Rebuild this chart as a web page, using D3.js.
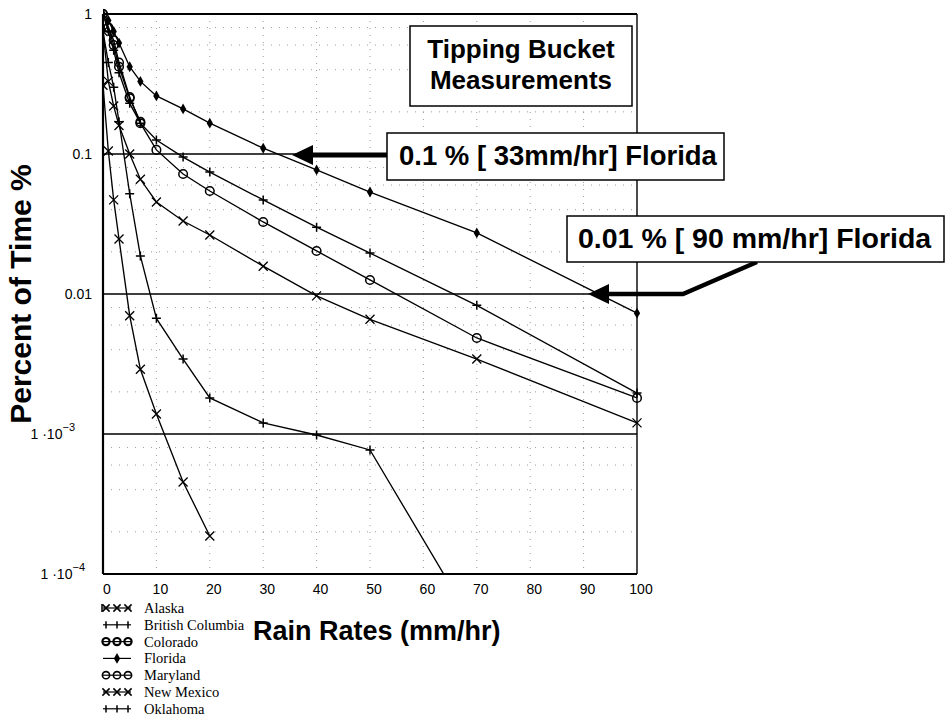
<!DOCTYPE html>
<html>
<head>
<meta charset="utf-8">
<script src="https://cdn.jsdelivr.net/npm/d3@7"></script>
<style>
  html, body { margin: 0; padding: 0; background: #fff; }
  svg { display: block; }
</style>
</head>
<body>
<svg id="chart" width="946" height="717"></svg>
<script>
// ---------- data ----------
const seriesNames = ["Alaska", "British Columbia", "Colorado", "Florida", "Maryland", "New Mexico", "Oklahoma"];

const alaska = [[0,0.31],[1,0.105],[2,0.047],[3,0.0247],[5,0.007],[7,0.0029],[10,0.00139],[15,0.000454],[20,0.000187]];
const britishColumbia = [[0,0.75],[1,0.45],[2,0.3],[3,0.17],[5,0.052],[7,0.0187],[10,0.0067],[15,0.00343],[20,0.00181],[30,0.0012],[40,0.000984],[50,0.000769],[70,0.00004]];
const colorado = [[0,1],[1,0.8],[2,0.6],[3,0.42],[5,0.25],[7,0.17]];
const florida = [[0,1],[1,0.9],[2,0.75],[3,0.62],[5,0.42],[7,0.33],[10,0.26],[15,0.21],[20,0.166],[30,0.11],[40,0.077],[50,0.0535],[70,0.0273],[100,0.0073]];
const maryland = [[0,1],[1,0.8],[2,0.65],[3,0.45],[5,0.255],[7,0.166],[10,0.107],[15,0.072],[20,0.0544],[30,0.0327],[40,0.0203],[50,0.0126],[70,0.00485],[100,0.00181]];
const newMexico = [[0,0.75],[1,0.33],[2,0.22],[3,0.16],[5,0.1],[7,0.066],[10,0.0454],[15,0.0332],[20,0.0264],[30,0.0158],[40,0.0097],[50,0.0066],[70,0.00343],[100,0.0012]];
const oklahoma = [[0,1],[1,0.75],[2,0.55],[3,0.38],[5,0.23],[7,0.166],[10,0.126],[15,0.095],[20,0.0743],[30,0.047],[40,0.030],[50,0.0196],[70,0.0083],[100,0.00196]];

const xTicks = [0,10,20,30,40,50,60,70,80,90,100];
const yMajor = [1, 0.1, 0.01, 0.001, 0.0001];
const yTickLabels = ["1", "0.1", "0.01", "1 \u00B710|\u22123", "1 \u00B710|\u22124"];
const annoTitle = ["Tipping Bucket", "Measurements"];
const anno1 = "0.1 % [ 33mm/hr] Florida";
const anno2 = "0.01 % [ 90 mm/hr] Florida";
const xTitle = "Rain Rates (mm/hr)";
const yTitle = "Percent of Time %";

// ---------- setup ----------
const svg = d3.select("#chart");
const sans = "'Liberation Sans', Arial, Helvetica, sans-serif";
const serif = "'Liberation Serif', 'Times New Roman', serif";

const x = d3.scaleLinear().domain([0, 100]).range([103, 637]);
const y = d3.scaleLog().domain([1e-4, 1]).range([574, 14]);

const markerOf = {
  "Alaska": "x", "British Columbia": "plus", "Colorado": "circle",
  "Florida": "diamond", "Maryland": "circle", "New Mexico": "x", "Oklahoma": "plus"
};
const dataOf = {
  "Alaska": alaska, "British Columbia": britishColumbia, "Colorado": colorado,
  "Florida": florida, "Maryland": maryland, "New Mexico": newMexico, "Oklahoma": oklahoma
};

svg.append("defs").append("clipPath").attr("id", "plotclip")
  .append("rect").attr("x", x(0)).attr("y", y(1) - 6)
  .attr("width", x(100) - x(0) + 6).attr("height", y(1e-4) - y(1) + 6);

// ---------- grid ----------
const grid = svg.append("g");
xTicks.slice(1, -1).forEach(t => {
  grid.append("line").attr("x1", x(t)).attr("x2", x(t)).attr("y1", y(1)).attr("y2", y(1e-4))
    .attr("stroke", "#9a9a9a").attr("stroke-width", 1).attr("stroke-dasharray", "1 6");
});
[-4, -3, -2, -1].forEach(k => {
  [2, 4, 6, 8].forEach(m => {
    const v = m * Math.pow(10, k);
    grid.append("line").attr("x1", x(0)).attr("x2", x(100)).attr("y1", y(v)).attr("y2", y(v))
      .attr("stroke", "#9a9a9a").attr("stroke-width", 1).attr("stroke-dasharray", "1 7");
  });
});

// major horizontal lines
yMajor.forEach(v => {
  svg.append("line").attr("x1", x(0)).attr("x2", x(100)).attr("y1", y(v)).attr("y2", y(v))
    .attr("stroke", "#000").attr("stroke-width", (v === 1 || v === 1e-4) ? 2 : 1.6);
});
// left and right borders
svg.append("line").attr("x1", x(0)).attr("x2", x(0)).attr("y1", y(1)).attr("y2", y(1e-4))
  .attr("stroke", "#000").attr("stroke-width", 2.2);
svg.append("line").attr("x1", x(100)).attr("x2", x(100)).attr("y1", y(1)).attr("y2", y(1e-4))
  .attr("stroke", "#000").attr("stroke-width", 1.4);

// ---------- series ----------
function drawMarker(g, type, cx, cy) {
  const s = 4.5;
  if (type === "x") {
    g.append("path").attr("d", `M${cx-s},${cy-s}L${cx+s},${cy+s}M${cx-s},${cy+s}L${cx+s},${cy-s}`)
      .attr("stroke", "#000").attr("stroke-width", 1.3).attr("fill", "none");
  } else if (type === "plus") {
    g.append("path").attr("d", `M${cx-s},${cy}L${cx+s},${cy}M${cx},${cy-s}L${cx},${cy+s}`)
      .attr("stroke", "#000").attr("stroke-width", 1.5).attr("fill", "none");
  } else if (type === "circle") {
    g.append("circle").attr("cx", cx).attr("cy", cy).attr("r", 4.3)
      .attr("stroke", "#000").attr("stroke-width", 1.5).attr("fill", "none");
  } else if (type === "diamond") {
    g.append("path").attr("d", d3.symbol(d3.symbolDiamond, 34)()).attr("transform", `translate(${cx},${cy})`)
      .attr("fill", "#000");
  }
}

const line = d3.line().x(d => x(d[0])).y(d => y(d[1]));
const plot = svg.append("g").attr("clip-path", "url(#plotclip)");
seriesNames.forEach(name => {
  const data = dataOf[name];
  plot.append("path").datum(data).attr("d", line)
    .attr("fill", "none").attr("stroke", "#000").attr("stroke-width", 1.35);
  data.forEach(d => {
    if (d[1] >= 1e-4) drawMarker(plot, markerOf[name], x(d[0]), y(d[1]));
  });
});

// ---------- axes labels ----------
xTicks.forEach(t => {
  svg.append("text").attr("x", x(t) + 4).attr("y", 594).attr("text-anchor", "middle")
    .attr("font-family", sans).attr("font-size", 14).text(t);
});
const yLabelShift = {1: 0, 0.1: 0, 0.01: 0, 0.001: -17, 0.0001: -7};
yMajor.forEach((v, i) => {
  const parts = yTickLabels[i].split("|");
  const t = svg.append("text").attr("x", 92 + yLabelShift[v]).attr("y", y(v) + 5)
    .attr("text-anchor", "end").attr("font-family", sans).attr("font-size", 14);
  t.append("tspan").text(parts[0]);
  if (parts[1]) t.append("tspan").attr("dy", -8).attr("font-size", 11).text(parts[1]);
});

svg.append("text").attr("x", 253).attr("y", 640).attr("font-family", sans)
  .attr("font-weight", "bold").attr("font-size", 27).text(xTitle);
svg.append("text").attr("transform", "translate(31,294) rotate(-90)").attr("text-anchor", "middle")
  .attr("font-family", sans).attr("font-weight", "bold").attr("font-size", 30).text(yTitle);

// ---------- legend ----------
seriesNames.forEach((name, i) => {
  const cy = 608 + i * 16.8;
  const g = svg.append("g");
  g.append("line").attr("x1", 103).attr("x2", 131).attr("y1", cy).attr("y2", cy)
    .attr("stroke", "#000").attr("stroke-width", 1.2);
  if (markerOf[name] === "diamond") {
    drawMarker(g, "diamond", 117, cy);
  } else {
    [106, 117, 128].forEach(px => {
      const s = 3.6;
      if (markerOf[name] === "x") {
        g.append("path").attr("d", `M${px-s},${cy-s}L${px+s},${cy+s}M${px-s},${cy+s}L${px+s},${cy-s}`)
          .attr("stroke", "#000").attr("stroke-width", 1.5);
      } else if (markerOf[name] === "plus") {
        g.append("path").attr("d", `M${px},${cy-s}L${px},${cy+s}`)
          .attr("stroke", "#000").attr("stroke-width", 1.5);
      } else {
        g.append("circle").attr("cx", px).attr("cy", cy).attr("r", 3.6)
          .attr("stroke", "#000").attr("stroke-width", name === "Colorado" ? 2.2 : 1.6).attr("fill", "none");
      }
    });
    if (name === "Alaska") {
      g.append("path").attr("d", `M102,${cy-4}L102,${cy+4}`).attr("stroke", "#000").attr("stroke-width", 1.5);
    }
  }
  svg.append("text").attr("x", 144).attr("y", cy + 5).attr("font-family", serif)
    .attr("font-size", 14.5).text(name);
});

// ---------- annotations ----------
const ann = svg.append("g");
ann.append("rect").attr("x", 410).attr("y", 26).attr("width", 222).attr("height", 80)
  .attr("fill", "#fff").attr("stroke", "#000").attr("stroke-width", 1.5);
ann.append("text").attr("x", 521).attr("y", 58).attr("text-anchor", "middle")
  .attr("font-family", sans).attr("font-weight", "bold").attr("font-size", 26).text(annoTitle[0]);
ann.append("text").attr("x", 521).attr("y", 89).attr("text-anchor", "middle")
  .attr("font-family", sans).attr("font-weight", "bold").attr("font-size", 26).text(annoTitle[1]);

// arrow 1 (to 0.1 % line)
const a1y = y(0.1) + 1;
ann.append("line").attr("x1", 308).attr("x2", 387).attr("y1", a1y).attr("y2", a1y)
  .attr("stroke", "#000").attr("stroke-width", 5);
ann.append("path").attr("d", `M292,${a1y}L313,${a1y-10}L313,${a1y+10}Z`).attr("fill", "#000");
ann.append("rect").attr("x", 387).attr("y", 133).attr("width", 337).attr("height", 47)
  .attr("fill", "#fff").attr("stroke", "#000").attr("stroke-width", 1.5);
ann.append("text").attr("x", 399).attr("y", 165)
  .attr("font-family", sans).attr("font-weight", "bold").attr("font-size", 27.5).text(anno1);

// arrow 2 (to 0.01 % line)
const a2y = y(0.01);
ann.append("path").attr("d", `M605,${a2y}L683,${a2y}L757,262`)
  .attr("fill", "none").attr("stroke", "#000").attr("stroke-width", 4.5);
ann.append("path").attr("d", `M588,${a2y}L609,${a2y-10}L609,${a2y+10}Z`).attr("fill", "#000");
ann.append("rect").attr("x", 567).attr("y", 216).attr("width", 377).attr("height", 46)
  .attr("fill", "#fff").attr("stroke", "#000").attr("stroke-width", 1.5);
ann.append("text").attr("x", 578).attr("y", 248)
  .attr("font-family", sans).attr("font-weight", "bold").attr("font-size", 28.5).text(anno2);
</script>
</body>
</html>
